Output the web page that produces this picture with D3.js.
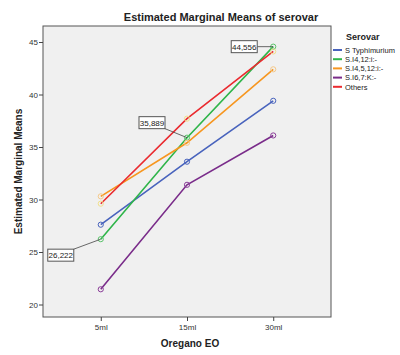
<!DOCTYPE html>
<html><head><meta charset="utf-8">
<script src="https://cdn.jsdelivr.net/npm/d3@7"></script>
<style>body{margin:0;background:#fff}svg{display:block}</style>
</head><body>
<svg id="c" width="400" height="355"></svg>
<script>
const categories = ["5ml", "15ml", "30ml"];
const seriesNames = ["S Typhimurium", "S.I4,12:i:-", "S.I4,5,12:i:-", "S.I6,7:K:-", "Others"];
const sTyphimurium = [27.6, 33.6, 39.4];
const sI412 = [26.222, 35.889, 44.556];
const sI4512 = [30.3, 35.4, 42.4];
const sI67K = [21.45, 31.4, 36.1];
const others = [29.6, 37.7, 44.1];
const yTicks = [20, 25, 30, 35, 40, 45];
const labels = [
  {series: 1, cat: 0, text: "26,222"},
  {series: 1, cat: 1, text: "35,889"},
  {series: 1, cat: 2, text: "44,556"}
];

const values = [sTyphimurium, sI412, sI4512, sI67K, others];
const colors = ["#4863bd", "#2fb54a", "#f7961f", "#7a2c8a", "#ea2a2f"];
const markerColors = ["#4863bd", "#5cc46c", "#f5c98a", "#8a3d98", "#f2e08c"];

const svg = d3.select("#c");
const L = 43, R = 331, T = 26, B = 317;
const x = d3.scalePoint().domain(categories).range([L, R]).padding(0.67);
const y = d3.scaleLinear().domain([20, 45]).range([304.5, 42]);

svg.append("rect").attr("x", L).attr("y", T).attr("width", R - L).attr("height", B - T)
  .attr("fill", "#f0f0f0").attr("stroke", "#555").attr("stroke-width", 1);

// axes
const gy = svg.append("g").attr("transform", `translate(${L},0)`)
  .call(d3.axisLeft(y).tickValues(yTicks).tickSize(4).tickPadding(1));
const gx = svg.append("g").attr("transform", `translate(0,${B})`)
  .call(d3.axisBottom(x).tickSize(4).tickPadding(3));
[gy, gx].forEach(g => {
  g.select(".domain").remove();
  g.selectAll("line").attr("stroke", "#444");
  g.selectAll("text").attr("font-family", "Liberation Sans, Arial, sans-serif")
    .attr("font-size", 8).attr("fill", "#333");
});

const line = d3.line().x((d, i) => x(categories[i])).y(d => y(d));
values.forEach((vals, s) => {
  svg.append("path").datum(vals).attr("d", line).attr("fill", "none")
    .attr("stroke", colors[s]).attr("stroke-width", 1.6);
});
values.forEach((vals, s) => {
  svg.selectAll(null).data(vals).enter().append("circle")
    .attr("cx", (d, i) => x(categories[i])).attr("cy", d => y(d)).attr("r", 2.6)
    .attr("fill", "none").attr("stroke", markerColors[s]).attr("stroke-width", 1);
});

// labels
const offsets = [{dx: -40, dy: 16}, {dx: -35, dy: -15}, {dx: -29, dy: 0}];
labels.forEach((lb, k) => {
  const px = x(categories[lb.cat]), py = y(values[lb.series][lb.cat]);
  const o = offsets[k];
  const w = 26, h = 12;
  const bx = px + o.dx - w / 2, by = py + o.dy - h / 2;
  let ax, ay;
  if (k === 0) { ax = bx + w; ay = by; }
  else if (k === 1) { ax = bx + w; ay = by + h; }
  else { ax = bx + w; ay = by + h / 2; }
  svg.append("line").attr("x1", ax).attr("y1", ay).attr("x2", px).attr("y2", py)
    .attr("stroke", "#444").attr("stroke-width", 0.8);
  svg.append("rect").attr("x", bx).attr("y", by).attr("width", w).attr("height", h)
    .attr("fill", "#fff").attr("stroke", "#555").attr("stroke-width", 1);
  svg.append("text").attr("x", bx + w / 2).attr("y", by + h / 2 + 3)
    .attr("text-anchor", "middle").attr("font-family", "Liberation Sans, Arial, sans-serif")
    .attr("font-size", 8).attr("fill", "#222").text(lb.text);
});

// title and axis labels
svg.append("text").attr("x", 221).attr("y", 21).attr("text-anchor", "middle")
  .attr("font-family", "Liberation Sans, Arial, sans-serif").attr("font-weight", "bold")
  .attr("font-size", 11).attr("fill", "#222").text("Estimated Marginal Means of serovar");
svg.append("text").attr("transform", `translate(22,${(T + B) / 2}) rotate(-90)`)
  .attr("text-anchor", "middle").attr("font-family", "Liberation Sans, Arial, sans-serif")
  .attr("font-weight", "bold").attr("font-size", 10).attr("fill", "#222").text("Estimated Marginal Means");
svg.append("text").attr("x", 190).attr("y", 347).attr("text-anchor", "middle")
  .attr("font-family", "Liberation Sans, Arial, sans-serif").attr("font-weight", "bold")
  .attr("font-size", 10).attr("fill", "#222").text("Oregano EO");

// legend
svg.append("text").attr("x", 346).attr("y", 40)
  .attr("font-family", "Liberation Sans, Arial, sans-serif").attr("font-weight", "bold")
  .attr("font-size", 9).attr("fill", "#222").text("Serovar");
seriesNames.forEach((n, s) => {
  const ly = 50 + s * 9.2;
  svg.append("line").attr("x1", 333).attr("x2", 342).attr("y1", ly).attr("y2", ly)
    .attr("stroke", colors[s]).attr("stroke-width", 2);
  svg.append("text").attr("x", 345).attr("y", ly + 2.8)
    .attr("font-family", "Liberation Sans, Arial, sans-serif").attr("font-size", 7.5)
    .attr("fill", "#222").text(n);
});
</script>
</body></html>
